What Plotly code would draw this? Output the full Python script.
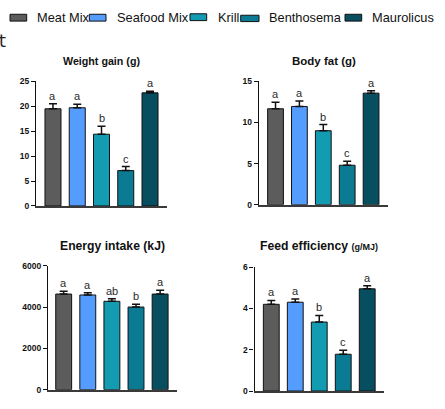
import plotly.graph_objects as go

groups = ["Meat Mix", "Seafood Mix", "Krill", "Benthosema", "Maurolicus"]
colors = ["#5c5c5c", "#559cff", "#139bb1", "#0a7b92", "#064e60"]

weight_gain = [19.5, 19.7, 14.4, 7.1, 22.7]
weight_gain_err = [1.0, 0.7, 1.6, 0.8, 0.3]
weight_gain_letters = ["a", "a", "b", "c", "a"]

body_fat = [11.67, 11.95, 9.0, 4.8, 13.57]
body_fat_err = [0.8, 0.65, 0.75, 0.5, 0.3]
body_fat_letters = ["a", "a", "b", "c", "a"]

energy_intake = [4630, 4585, 4280, 4000, 4630]
energy_intake_err = [140, 110, 125, 140, 190]
energy_intake_letters = ["a", "a", "ab", "b", "a"]

feed_eff = [4.2, 4.3, 3.34, 1.78, 4.95]
feed_eff_err = [0.19, 0.16, 0.32, 0.19, 0.15]
feed_eff_letters = ["a", "a", "b", "c", "a"]

W, H = 445, 409
FONT = "Liberation Sans, Arial, sans-serif"

panels = [
    dict(vals=weight_gain, err=weight_gain_err, letters=weight_gain_letters,
         title="<b>Weight gain (g)</b>", tsize=10.7, tx=101, ty=57,
         xpx=(36, 167), ypx=(206, 78.3), yr=[0, 25], dt=5, xr=[-0.7, 4.7]),
    dict(vals=body_fat, err=body_fat_err, letters=body_fat_letters,
         title="<b>Body fat (g)</b>", tsize=11.5, tx=323.5, ty=57,
         xpx=(258.8, 387.8), ypx=(204.7, 78.3), yr=[0, 15], dt=5, xr=[-0.7, 4.7]),
    dict(vals=energy_intake, err=energy_intake_err, letters=energy_intake_letters,
         title="<b>Energy intake (kJ)</b>", tsize=12.2, tx=112.5, ty=246.7,
         xpx=(48, 177), ypx=(394.3, 267.3), yr=[0, 6000], dt=2000, xr=[-0.65, 4.7]),
    dict(vals=feed_eff, err=feed_eff_err, letters=feed_eff_letters,
         title="<b>Feed efficiency <span style='font-size:9px'>(g/MJ)</span></b>", tsize=12.2,
         tx=318.8, ty=246.7,
         xpx=(254.5, 384), ypx=(395.7, 268.7), yr=[0, 6], dt=2, xr=[-0.7, 4.7]),
]

fig = go.Figure()
annotations = []
layout_axes = {}

for i, p in enumerate(panels, start=1):
    xa = "x" if i == 1 else f"x{i}"
    ya = "y" if i == 1 else f"y{i}"
    fig.add_trace(go.Bar(
        x=groups, y=p["vals"], xaxis=xa, yaxis=ya,
        marker=dict(color=colors, line=dict(color="#111111", width=1)),
        width=0.66,
        error_y=dict(type="data", symmetric=False, array=p["err"],
                     arrayminus=[0] * len(p["err"]), color="#111111",
                     thickness=1.5, width=4),
        showlegend=False, hoverinfo="skip",
    ))
    xk = "xaxis" if i == 1 else f"xaxis{i}"
    yk = "yaxis" if i == 1 else f"yaxis{i}"
    layout_axes[xk] = dict(
        domain=[p["xpx"][0] / W, p["xpx"][1] / W], range=p["xr"],
        anchor=ya, showline=True, linecolor="#3a3a3a", linewidth=1.5,
        ticks="", showticklabels=False, showgrid=False, zeroline=False,
        type="category", fixedrange=True,
    )
    layout_axes[yk] = dict(
        domain=[1 - p["ypx"][0] / H, 1 - p["ypx"][1] / H], range=p["yr"],
        anchor=xa, showline=True, linecolor="#111111", linewidth=1.3,
        ticks="outside", ticklen=4, tickwidth=1.3, tickcolor="#111111",
        dtick=p["dt"], tick0=0, showgrid=False, zeroline=False,
        tickfont=dict(family=FONT, size=8.5, color="#111111", weight="bold"),
        fixedrange=True,
    )
    for g, v, e, L in zip(groups, p["vals"], p["err"], p["letters"]):
        annotations.append(dict(
            x=g, y=v + e, xref=xa, yref=ya, text=L, showarrow=False,
            yanchor="bottom", xanchor="center", yshift=0,
            font=dict(family=FONT, size=11, color="#2a2a2a"),
        ))
    annotations.append(dict(
        x=p["tx"] / W, y=1 - p["ty"] / H, xref="paper", yref="paper",
        text=p["title"], showarrow=False, xanchor="center", yanchor="middle",
        font=dict(family=FONT, size=p["tsize"], color="#111111"),
    ))

# manual legend
leg_sq = [(10, 26.7, 9.5, 16.5), (89.3, 106, 9.5, 16.5), (190, 206.7, 9, 16),
          (240.7, 259, 10.5, 17), (345, 361.7, 9.5, 16.5)]
leg_tx = [36.7, 116.7, 217.3, 268.3, 371.7]
shapes = []
for (x0, x1, y0, y1), c, tx, name in zip(leg_sq, colors, leg_tx, groups):
    shapes.append(dict(type="rect", xref="paper", yref="paper",
                       x0=x0 / W, x1=x1 / W, y0=1 - y1 / H, y1=1 - y0 / H,
                       fillcolor=c, line=dict(color="#111111", width=1)))
    annotations.append(dict(
        x=(tx - 1.5) / W, y=1 - 13 / H, xref="paper", yref="paper",
        text=name, showarrow=False, xanchor="left", yanchor="middle",
        font=dict(family=FONT, size=12.8, color="#111111"),
    ))

# cut-off fragment at top-left
annotations.append(dict(
    x=-5 / W, y=1 - 37 / H, xref="paper", yref="paper", text="t",
    showarrow=False, xanchor="left", yanchor="middle",
    font=dict(family="DejaVu Sans Mono", size=17, color="#222222"),
))

fig.update_layout(
    width=W, height=H, margin=dict(l=0, r=0, t=0, b=0),
    paper_bgcolor="white", plot_bgcolor="white",
    annotations=annotations, shapes=shapes, bargap=0.34,
    showlegend=False, **layout_axes,
)

fig.write_html(
    "out.html",
    config={"displayModeBar": False},
    post_script="document.body.style.margin='0';document.body.style.overflow='hidden';",
)
